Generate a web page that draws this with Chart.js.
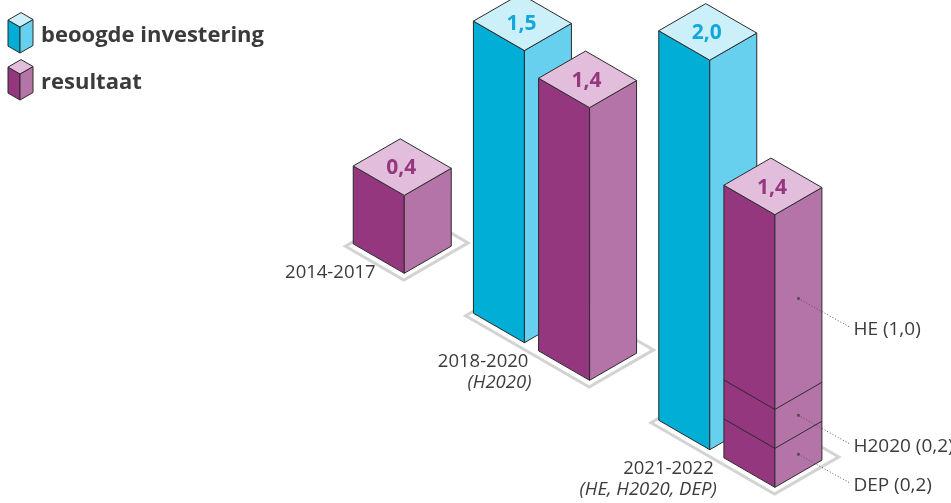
<!DOCTYPE html>
<html>
<head>
<meta charset="utf-8">
<script src="https://cdn.jsdelivr.net/npm/chart.js@4.4.1/dist/chart.umd.min.js"></script>
<style>
    html, body { margin: 0; padding: 0; background: #fff; }
    #wrap { width: 951px; height: 503px; }
</style>
</head>
<body>
<div id="wrap"><canvas id="myChart"></canvas></div>
<script>
// data
const categories = [['2014-2017'], ['2018-2020', '(H2020)'], ['2021-2022', '(HE, H2020, DEP)']];
const seriesNamen = ['beoogde investering', 'resultaat'];
const investering = [null, 1.5, 2.0];
const resultaat = [0.4, 1.4, 1.4];
// opbouw resultaat 2021-2022, van onder naar boven
const onderdelen = ['DEP', 'H2020', 'HE'];
const onderdeelWaarden = [0.2, 0.2, 1.0];

const kleuren = [
    { front: '#00aed6', side: '#66d0ee', top: '#ccf0fa', text: '#12a8dc' },
    { front: '#94377f', side: '#b574a8', top: '#e3bddc', text: '#94377f' }
];
const TAN = Math.tan(Math.PI / 6);
const FLOOR_Y0 = 201;   // vloerhoogte aan de linkerkant van het plotgebied
const WL = 51, WR = 47; // breedte linker/rechter zijvlak
const TEKST = '#3b3b3b';

function fmt(v) {
    return v.toFixed(1).replace('.', ',');
}

function poly(ctx, pts, fill) {
    ctx.beginPath();
    ctx.moveTo(pts[0][0], pts[0][1]);
    for (let i = 1; i < pts.length; i++) ctx.lineTo(pts[i][0], pts[i][1]);
    ctx.closePath();
    if (fill) {
        ctx.fillStyle = fill;
        ctx.fill();
    }
    ctx.stroke();
}

function prisma(ctx, x, yb, h, k, wl, wr) {
    const dl = wl * TAN, dr = wr * TAN;
    const yt = yb - h;
    ctx.save();
    ctx.strokeStyle = '#2b2b2b';
    ctx.lineWidth = 1;
    ctx.lineJoin = 'round';
    poly(ctx, [[x - wl, yt - dl], [x, yt], [x, yb], [x - wl, yb - dl]], k.front);
    poly(ctx, [[x, yt], [x + wr, yt - dr], [x + wr, yb - dr], [x, yb]], k.side);
    poly(ctx, [[x, yt], [x - wl, yt - dl], [x - wl + wr, yt - dl - dr], [x + wr, yt - dr]], k.top);
    ctx.restore();
}

const iso3d = {
    id: 'iso3d',
    afterDatasetsDraw(chart) {
        const ctx = chart.ctx;
        const area = chart.chartArea;
        const y = chart.scales.y;
        const hoogte = v => y.getPixelForValue(0) - y.getPixelForValue(v);
        const floorY = x => FLOOR_Y0 + (x - area.left) * TAN;

        const groepen = categories.map((c, i) => {
            const bars = [];
            chart.data.datasets.forEach((ds, d) => {
                const val = ds.data[i];
                if (val == null) return;
                const el = chart.getDatasetMeta(d).data[i];
                bars.push({ x: el.x, yb: floorY(el.x), h: el.base - el.y, val: val, d: d });
            });
            return bars;
        });

        // vloerplaatjes
        ctx.save();
        ctx.strokeStyle = '#d3d3d3';
        ctx.lineWidth = 3;
        ctx.lineJoin = 'miter';
        const platen = groepen.map(bars => {
            const f = bars[0], l = bars[bars.length - 1];
            const left = [f.x - 58.8, f.yb - 27];
            const bottom = [l.x - 0.4, l.yb + 6.8];
            const right = [l.x + 63.9, l.yb - 30.4];
            const back = [left[0] + right[0] - bottom[0], left[1] + right[1] - bottom[1]];
            ctx.beginPath();
            ctx.moveTo(left[0], left[1]);
            ctx.lineTo(bottom[0], bottom[1]);
            ctx.lineTo(right[0], right[1]);
            ctx.lineTo(back[0], back[1]);
            ctx.closePath();
            ctx.stroke();
            return { left, bottom };
        });
        ctx.restore();

        // staven
        groepen.forEach(bars => {
            bars.forEach(b => {
                const k = kleuren[b.d];
                prisma(ctx, b.x, b.yb, b.h, k, WL, WR);
                const yt = b.yb - b.h;
                ctx.save();
                ctx.font = 'bold 21px "Open Sans"';
                ctx.fillStyle = k.text;
                ctx.textAlign = 'center';
                ctx.textBaseline = 'middle';
                ctx.fillText(fmt(b.val), b.x - 3, yt - 27);
                ctx.restore();
            });
        });

        // opbouw van de laatste resultaatstaaf
        const laatste = groepen[groepen.length - 1].find(b => b.d === 1);
        let cum = 0;
        ctx.save();
        onderdelen.forEach((naam, k) => {
            const v = onderdeelWaarden[k];
            const mid = cum + v / 2;
            cum += v;
            const xb = laatste.x, yb = laatste.yb;
            if (k < onderdelen.length - 1) {
                const ys = yb - hoogte(cum);
                ctx.strokeStyle = '#2b2b2b';
                ctx.lineWidth = 1;
                ctx.setLineDash([]);
                ctx.beginPath();
                ctx.moveTo(xb - WL, ys - WL * TAN);
                ctx.lineTo(xb, ys);
                ctx.lineTo(xb + WR, ys - WR * TAN);
                ctx.stroke();
            }
            const dx = xb + WR / 2;
            const dy = yb - hoogte(mid) - (WR / 2) * TAN;
            ctx.fillStyle = '#444';
            ctx.fillRect(dx - 1.2, dy - 1.2, 2.5, 2.5);
            ctx.strokeStyle = '#555';
            ctx.setLineDash([1, 2]);
            ctx.beginPath();
            ctx.moveTo(dx, dy);
            ctx.lineTo(dx + 52, dy + 29);
            ctx.stroke();
            ctx.setLineDash([]);
            ctx.font = '19px "Open Sans"';
            ctx.fillStyle = TEKST;
            ctx.textAlign = 'left';
            ctx.textBaseline = 'middle';
            ctx.fillText(naam + ' (' + fmt(v) + ')', dx + 55, dy + 31);
        });
        ctx.restore();

        // categorie-labels
        ctx.save();
        ctx.fillStyle = TEKST;
        ctx.textAlign = 'right';
        ctx.textBaseline = 'middle';
        platen.forEach((p, i) => {
            const mx = (p.left[0] + p.bottom[0]) / 2 + 1;
            const my = (p.left[1] + p.bottom[1]) / 2 + 10;
            ctx.font = '18.5px "Open Sans"';
            ctx.fillText(categories[i][0], mx, my);
            if (categories[i][1]) {
                ctx.font = 'italic 18.5px "Open Sans"';
                ctx.fillText(categories[i][1], mx + 3, my + 21);
            }
        });
        ctx.restore();

        // legenda
        ctx.save();
        seriesNamen.forEach((naam, s) => {
            prisma(ctx, 20, 53 + s * 47, 26, kleuren[s], 12, 13);
            ctx.font = 'bold 22px "Open Sans"';
            ctx.fillStyle = TEKST;
            ctx.textAlign = 'left';
            ctx.textBaseline = 'alphabetic';
            ctx.fillText(naam, 41, 42 + s * 47);
        });
        ctx.restore();
    }
};

const ctx = document.getElementById('myChart').getContext('2d');
const myChart = new Chart(ctx, {
    type: 'bar',
    data: {
        labels: categories,
        datasets: [
            {
                label: seriesNamen[0],
                data: investering,
                backgroundColor: 'rgba(0,0,0,0)',
                borderWidth: 0
            },
            {
                label: seriesNamen[1],
                data: resultaat,
                backgroundColor: 'rgba(0,0,0,0)',
                borderWidth: 0
            }
        ]
    },
    options: {
        responsive: true,
        maintainAspectRatio: false,
        animation: false,
        devicePixelRatio: 1,
        categoryPercentage: 0.703,
        barPercentage: 0.8,
        layout: {
            padding: { left: 279, right: 116, top: 10, bottom: 10 }
        },
        plugins: {
            legend: { display: false },
            tooltip: { enabled: false }
        },
        scales: {
            x: { display: false },
            y: { display: false, min: 0, max: 2.48 }
        }
    },
    plugins: [iso3d]
});
</script>
</body>
</html>
